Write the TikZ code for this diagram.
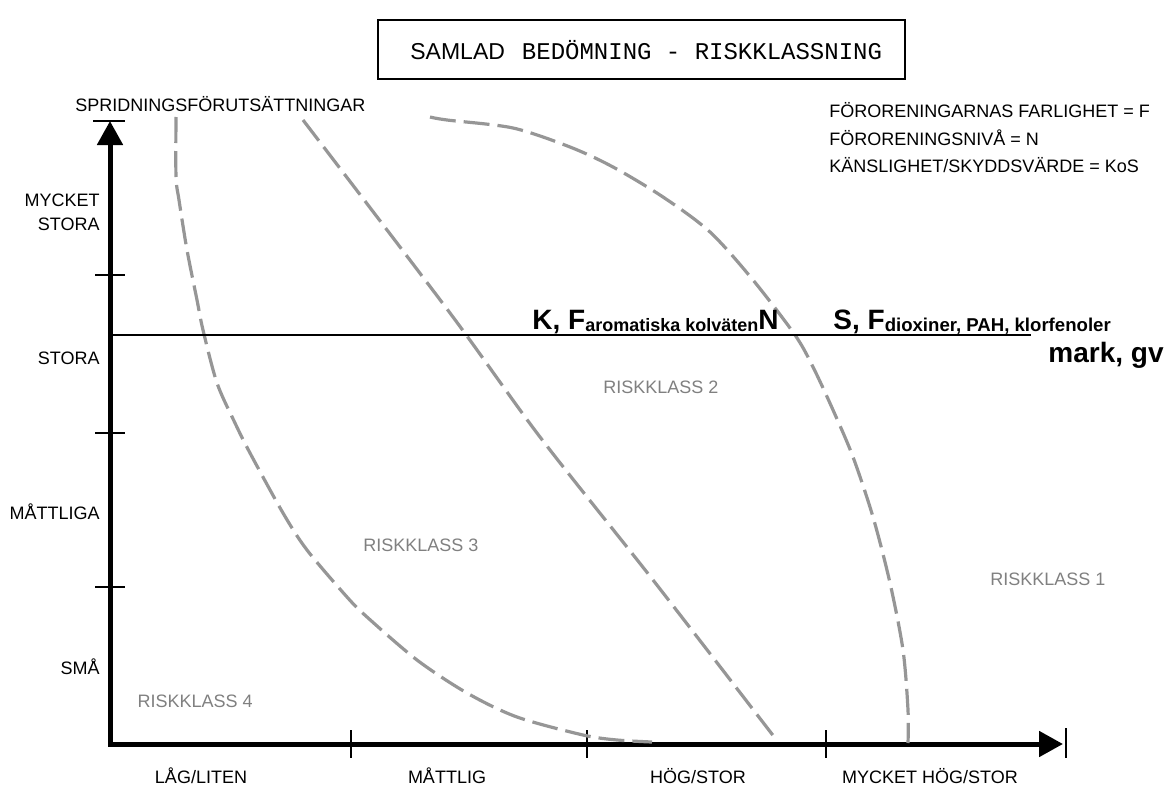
\documentclass[tikz,border=0pt]{standalone}
\usepackage{fontspec}
\setmainfont{Liberation Sans}
\newfontfamily\arialfont{Liberation Sans}
\newfontfamily\courfont{Liberation Mono}
\usetikzlibrary{arrows.meta}
\definecolor{curvegray}{RGB}{150,150,150}
\definecolor{riskgray}{RGB}{128,128,128}
\begin{document}
\begin{tikzpicture}[x=0.5pt,y=-0.5pt,
  lbl/.style={font=\arialfont\fontsize{9}{12}\selectfont, inner sep=0pt},
  risk/.style={font=\arialfont\fontsize{9}{12}\selectfont, text=riskgray, inner sep=0pt},
  big/.style={font=\arialfont\fontsize{14}{16}\selectfont\bfseries, inner sep=0pt},
  curve/.style={line width=1.6pt, draw=curvegray, dash pattern=on 13pt off 4pt},
  axisline/.style={line width=2.5pt, line join=miter},
  tickline/.style={line width=1.3pt}
]
\useasboundingbox (0,0) rectangle (1166,787);
% title
\node[draw, line width=1pt, minimum width=263.5pt, minimum height=29.5pt, inner sep=0pt] (titlebox) at (641.5,49.5) {};
\node[anchor=base west, inner sep=0pt] (title) at (410,59) {{\arialfont\fontsize{11.5}{12}\selectfont SAMLAD}\hspace{8.5pt}{\courfont\fontsize{12}{12}\selectfont BEDÖMNING - RISKKLASSNING}};
% axes
\draw[axisline, {Triangle[length=12pt,width=12.5pt]}-{Triangle[length=12pt,width=12.5pt]}] (110,121) -- (110,744) -- (1063,744);
\draw[tickline] (93,121) -- (125,121);
\draw[tickline] (1066,728) -- (1066,758);
\foreach \y in {275,433,587} \draw[tickline] (95,\y) -- (125,\y);
\foreach \x in {351,587,826} \draw[tickline] (\x,730) -- (\x,758);
% axis labels
\node[lbl, anchor=base west] (ytitle) at (75,111.5) {SPRIDNINGSFÖRUTSÄTTNINGAR};
\node[lbl, anchor=base east] (y4a) at (100,206) {MYCKET};
\node[lbl, anchor=base east] (y4b) at (100,230) {STORA};
\node[lbl, anchor=base east] (y3) at (100,364) {STORA};
\node[lbl, anchor=base east] (y2) at (100,519) {MÅTTLIGA};
\node[lbl, anchor=base east] (y1) at (100,674) {SMÅ};
\node[lbl, anchor=base] (x1) at (201,783) {LÅG/LITEN};
\node[lbl, anchor=base] (x2) at (447,783) {MÅTTLIG};
\node[lbl, anchor=base] (x3) at (698,783) {HÖG/STOR};
\node[lbl, anchor=base] (x4) at (930,783) {MYCKET HÖG/STOR};
% legend
\node[lbl, anchor=base west] (leg1) at (829,117) {FÖRORENINGARNAS FARLIGHET = F};
\node[lbl, anchor=base west] (leg2) at (829,145) {FÖRORENINGSNIVÅ = N};
\node[lbl, anchor=base west] (leg3) at (829,172) {KÄNSLIGHET/SKYDDSVÄRDE = KoS};
% curves
\draw[curve] plot[smooth, tension=0.5] coordinates {(176,117) (176,177) (179,200) (187,250) (197,300) (203,330) (217,383) (235,423) (250,453) (283,513) (307,550) (347,597) (367,617) (417,660) (467,693) (517,717) (583,735) (617,740) (652,742)};
\draw[curve] plot[smooth, tension=0.5] coordinates {(303,120) (450,313) (540,437) (653,580) (775,738)};
\draw[curve] plot[smooth, tension=0.5] coordinates {(430,117) (447,120) (513,128) (570,147) (613,167) (663,197) (710,232) (753,280) (795,335) (813,367) (833,410) (853,457) (873,517) (890,583) (903,650) (908,710) (908,743)};
% horizontal line and labels
\draw[line width=1pt] (108,335) -- (1031,335);
\node[big, anchor=base west] (kf) at (532,329) {K, F\raisebox{-1.2pt}{\fontsize{9}{9}\selectfont aromatiska kolväten}N};
\node[big, anchor=base west] (sf) at (833,329) {S, F\raisebox{-1.2pt}{\fontsize{9.3}{9}\selectfont dioxiner, PAH, klorfenoler}};
\node[big, anchor=base east] (mark) at (1164,362) {mark, gv};
% risk classes
\node[risk, anchor=base west] (r1) at (990,585) {RISKKLASS 1};
\node[risk, anchor=base west] (r2) at (603,393) {RISKKLASS 2};
\node[risk, anchor=base west] (r3) at (363,551) {RISKKLASS 3};
\node[risk, anchor=base east] (r4) at (253,707) {RISKKLASS 4};
\end{tikzpicture}
\end{document}
